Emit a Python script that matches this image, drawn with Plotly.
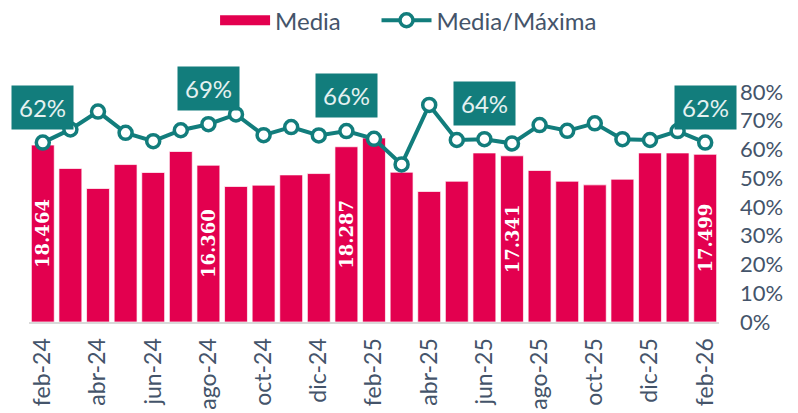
import plotly.graph_objects as go

months = ["feb-24", "mar-24", "abr-24", "may-24", "jun-24", "jul-24", "ago-24", "sep-24",
          "oct-24", "nov-24", "dic-24", "ene-25", "feb-25", "mar-25", "abr-25", "may-25",
          "jun-25", "jul-25", "ago-25", "sep-25", "oct-25", "nov-25", "dic-25", "ene-26", "feb-26"]
media = [18464, 16020, 13930, 16430, 15600, 17790, 16360, 14140,
         14280, 15350, 15490, 18287, 19200, 15630, 13620, 14690,
         17640, 17341, 15810, 14690, 14310, 14900, 17640, 17640, 17499]
ratio = [62.4, 67.0, 73.2, 65.8, 62.9, 66.7, 68.8, 72.2,
         65.0, 67.8, 64.9, 66.4, 63.7, 54.8, 75.5, 63.3,
         63.6, 62.1, 68.5, 66.5, 69.1, 63.6, 63.3, 66.4, 62.4]
tick_months = months[::2]
pct_ticks = list(range(0, 81, 10))
pct_tick_text = [f"{v}%" for v in pct_ticks]
bar_label_months = ["feb-24", "ago-24", "ene-25", "jul-25", "feb-26"]
pct_label_months = ["feb-24", "ago-24", "ene-25", "jun-25", "feb-26"]

PINK = "#e3004f"
TEAL = "#127d7c"
TXT = "#44546a"
FONT = "Lato"
NBSP = "\u00a0"

bar_text = [f"{v:,}".replace(",", ".") if m in bar_label_months else "" for m, v in zip(months, media)]

fig = go.Figure()
fig.add_trace(go.Bar(
    x=months, y=media, name="Media", showlegend=False,
    marker=dict(color=PINK, line=dict(color="rgba(255,255,255,0.7)", width=1)),
    text=bar_text, textposition="inside", textangle=-90, insidetextanchor="middle",
    constraintext="none",
    textfont=dict(family="DejaVu Serif", size=18, color="white", weight="bold"),
    hoverinfo="skip",
))
# legend entry for the bars (wide rectangle swatch)
fig.add_trace(go.Scatter(
    x=[None], y=[None], name="Media" + NBSP * 5, mode="lines",
    line=dict(color=PINK, width=14),
))
fig.add_trace(go.Scatter(
    x=months, y=ratio, name="Media/Máxima", yaxis="y2", mode="lines+markers",
    line=dict(color=TEAL, width=4),
    marker=dict(size=13, color="white", line=dict(color=TEAL, width=3.5)),
))

for m in pct_label_months:
    v = ratio[months.index(m)]
    fig.add_annotation(
        x=m, y=v, xref="x", yref="y2", text=f"{round(v)}%", showarrow=False,
        yanchor="bottom", yshift=13, bgcolor=TEAL, borderpad=7,
        font=dict(family=FONT, size=24, color="#e4f1f1"),
    )

fig.update_layout(
    width=798, height=413,
    margin=dict(l=29, r=79, t=92, b=91, autoexpand=False),
    paper_bgcolor="white", plot_bgcolor="white",
    separators=",.",
    bargap=0.17,
    showlegend=True,
    legend=dict(orientation="h", xref="container", yref="container", x=0.512, y=0.95,
                xanchor="center", yanchor="middle", font=dict(family=FONT, size=24, color=TXT),
                itemwidth=50, traceorder="normal"),
    xaxis=dict(type="category", tickmode="array", tickvals=tick_months, ticktext=tick_months,
               range=[-0.5, len(months) - 0.5], ticklabelstandoff=5,
               tickangle=-90, tickfont=dict(family=FONT, size=23, color=TXT),
               showline=True, linecolor="#d9d9d9", linewidth=2, showgrid=False, ticks=""),
    yaxis=dict(range=[0, 24000], visible=False, showgrid=False),
    yaxis2=dict(range=[0, 80], overlaying="y", side="right", tickmode="array",
                tickvals=pct_ticks, ticktext=pct_tick_text,
                showgrid=False, zeroline=False, ticklabelstandoff=20,
                tickfont=dict(family=FONT, size=22, color=TXT)),
)
fig.write_html("out.html", config={"displayModeBar": False},
               post_script="document.body.style.margin='0';document.body.style.padding='0';")
